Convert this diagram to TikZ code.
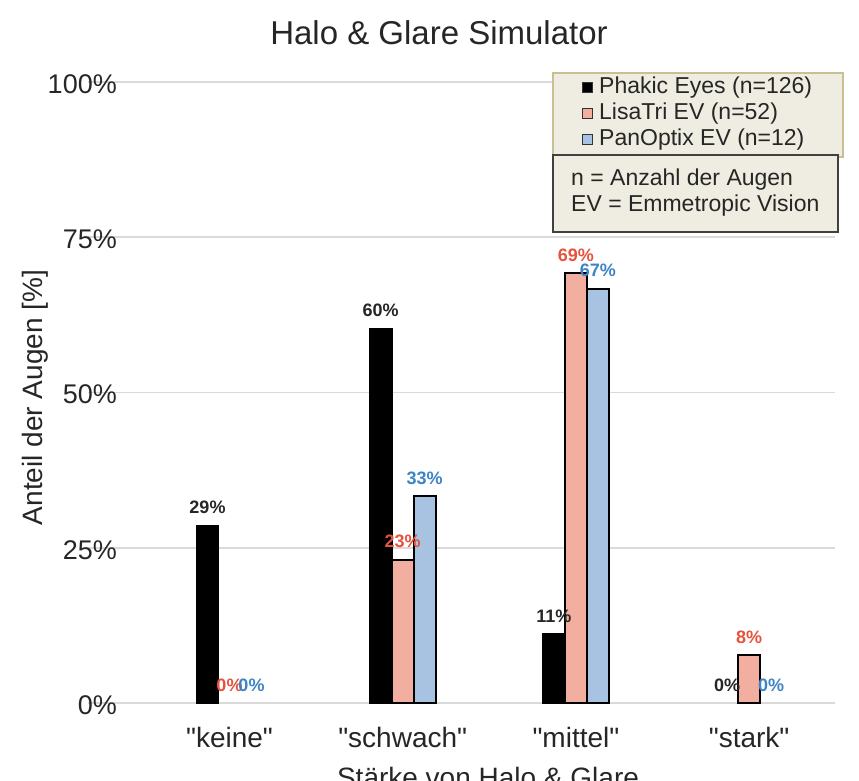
\documentclass[tikz,border=0pt]{standalone}
\usepackage{fontspec}
\setmainfont{Liberation Sans}
\definecolor{pinkbar}{HTML}{F2AE9E}
\definecolor{bluebar}{HTML}{A7C3E1}
\definecolor{redlab}{HTML}{E5533D}
\definecolor{bluelab}{HTML}{3D84C6}
\definecolor{blacklab}{HTML}{262626}
\definecolor{gridc}{HTML}{DADADA}
\definecolor{legfill}{HTML}{EFEDE1}
\definecolor{legtan}{HTML}{C9BF91}
\begin{document}
\begin{tikzpicture}[x=1pt,y=1pt,
  barbox/.style={draw=black,line width=1.8pt},
  vlab/.style={font=\fontsize{18}{18}\selectfont\bfseries,anchor=base,inner sep=0pt},
  ticklab/.style={font=\fontsize{27}{27}\selectfont,anchor=east,inner sep=0pt,text=black!85},
  catlab/.style={font=\fontsize{28}{28}\selectfont,anchor=base,inner sep=0pt,text=black!85},
  legtext/.style={font=\fontsize{23}{23}\selectfont,anchor=west,inner sep=0pt,text=black!85},
  legsq/.style={draw=black!80,line width=1pt,minimum size=10pt,inner sep=0pt}
]
\useasboundingbox (0,0) rectangle (859,780);
% gridlines and tick labels
\foreach \v/\t in {0/0\%,25/25\%,50/50\%,75/75\%,100/100\%}{
  \coordinate (gl\v) at (88,{77+6.21*\v});
  \coordinate (gr\v) at (835,{77+6.21*\v});
  \draw[gridc,line width=1.5pt] (gl\v) -- (gr\v);
  \node[ticklab] (tk\v) at (117,{75+6.21*\v}) {\t};
}
% title
\node[font=\fontsize{33}{33}\selectfont,inner sep=0pt,text=black!85] (title) at (439,747) {Halo \& Glare Simulator};
% axis labels
\node[font=\fontsize{28}{28}\selectfont,rotate=90,anchor=base,inner sep=0pt,text=black!85] (ylab) at (42,382.5) {Anteil der Augen [\%]};
\node[catlab] (xlab) at (488,-7) {Stärke von Halo \& Glare};
% categories
\foreach \i/\c in {0/keine,1/schwach,2/mittel,3/stark}{
  \node[catlab] (cat\i) at ({229.5+173.2*\i},33) {\textquotedbl\c\textquotedbl};
}
% bars: group index, offset, value, fill
\foreach \i/\o/\v/\f/\n in {0/-22/28.57/black/k1,
                            1/-22/60.32/black/s1,1/0/23.08/pinkbar/s2,1/22/33.33/bluebar/s3,
                            2/-22/11.11/black/m1,2/0/69.23/pinkbar/m2,2/22/66.67/bluebar/m3,
                            3/0/7.69/pinkbar/t2}{
  \draw[barbox,fill=\f] ({229.5+173.2*\i+\o-11},77) rectangle ({229.5+173.2*\i+\o+11},{77+6.21*\v});
}
% value labels
\foreach \i/\o/\v/\t/\col/\n in {0/-22/28.57/29\%/blacklab/k1,0/0/0/0\%/redlab/k2,0/22/0/0\%/bluelab/k3,
                            1/-22/60.32/60\%/blacklab/s1,1/0/23.08/23\%/redlab/s2,1/22/33.33/33\%/bluelab/s3,
                            2/-22/11.11/11\%/blacklab/m1,2/0/69.23/69\%/redlab/m2,2/22/66.67/67\%/bluelab/m3,
                            3/-22/0/0\%/blacklab/t1,3/0/7.69/8\%/redlab/t2,3/22/0/0\%/bluelab/t3}{
  \node[vlab,text=\col] (lab\n) at ({229.5+173.2*\i+\o},{77+6.21*\v+12}) {\t};
}
% legend
\draw[fill=legfill,draw=legtan,line width=2.2pt] (553,707) rectangle (843,623);
\draw[fill=legfill,draw=black!75,line width=1.5pt] (553,625) rectangle (838,548);
\node[legsq,fill=black] (sq1) at (587,692) {};
\node[legsq,fill=pinkbar] (sq2) at (587,666) {};
\node[legsq,fill=bluebar] (sq3) at (587,640) {};
\node[legtext] (lt1) at (599,692) {Phakic Eyes (n=126)};
\node[legtext] (lt2) at (599,666) {LisaTri EV (n=52)};
\node[legtext] (lt3) at (599,640) {PanOptix EV (n=12)};
\node[legtext] (nt1) at (571,600) {n = Anzahl der Augen};
\node[legtext] (nt2) at (571,574) {EV = Emmetropic Vision};
\end{tikzpicture}
\end{document}
